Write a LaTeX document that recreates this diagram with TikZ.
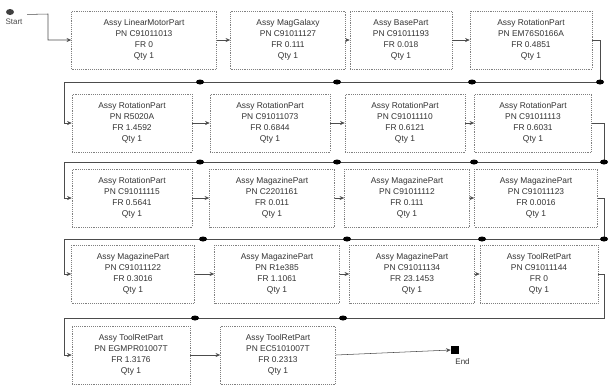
\documentclass[tikz,border=0pt]{standalone}
\usepackage{fontspec}
\setmainfont{Liberation Sans}
\usetikzlibrary{arrows.meta}
\begin{document}
\begin{tikzpicture}[x=0.75pt, y=-0.75pt,
    part/.style={draw=black!50, densely dotted, minimum height=43.5pt, inner sep=0pt,
      align=center, text=black!80, font=\fontsize{6.3}{8.4}\selectfont},
    link/.style={black!70, -{Stealth[length=3.5pt, width=3pt]}},
    blob/.style={fill=black}]
    \useasboundingbox (0,0) rectangle (611,390);
    % start
    \fill[black!75] (10,12) ellipse (4 and 3);
    \node[font=\fontsize{6}{7}\selectfont, text=black!70] (start) at (14,22) {Start};
    % row 1
    \node[part, minimum width=108.75pt] (b11) at (144,40) {Assy LinearMotorPart\\PN C91011013\\FR 0\\Qty 1};
    \node[part, minimum width=86.25pt] (b12) at (288,40) {Assy MagGalaxy\\PN C91011127\\FR 0.111\\Qty 1};
    \node[part, minimum width=76.5pt] (b13) at (401,40) {Assy BasePart\\PN C91011193\\FR 0.018\\Qty 1};
    \node[part, minimum width=91.5pt] (b14) at (531,40) {Assy RotationPart\\PN EM76S0166A\\FR 0.4851\\Qty 1};
    % row 2
    \node[part, minimum width=90pt] (b21) at (132,123) {Assy RotationPart\\PN R5020A\\FR 1.4592\\Qty 1};
    \node[part, minimum width=90pt] (b22) at (270,123) {Assy RotationPart\\PN C91011073\\FR 0.6844\\Qty 1};
    \node[part, minimum width=90pt] (b23) at (405,123) {Assy RotationPart\\PN C91011110\\FR 0.6121\\Qty 1};
    \node[part, minimum width=87.75pt] (b24) at (533,123) {Assy RotationPart\\PN C91011113\\FR 0.6031\\Qty 1};
    % row 3
    \node[part, minimum width=90pt] (b31) at (132,198) {Assy RotationPart\\PN C91011115\\FR 0.5641\\Qty 1};
    \node[part, minimum width=93.75pt] (b32) at (272,198) {Assy MagazinePart\\PN C2201161\\FR 0.011\\Qty 1};
    \node[part, minimum width=93.75pt] (b33) at (407,198) {Assy MagazinePart\\PN C91011112\\FR 0.111\\Qty 1};
    \node[part, minimum width=92.25pt] (b34) at (536,198) {Assy MagazinePart\\PN C91011123\\FR 0.0016\\Qty 1};
    % row 4
    \node[part, minimum width=92.25pt] (b41) at (133,274) {Assy MagazinePart\\PN C91011122\\FR 0.3016\\Qty 1};
    \node[part, minimum width=93.75pt] (b42) at (277,274) {Assy MagazinePart\\PN R1e385\\FR 1.1061\\Qty 1};
    \node[part, minimum width=93.75pt] (b43) at (412,274) {Assy MagazinePart\\PN C91011134\\FR 23.1453\\Qty 1};
    \node[part, minimum width=88.5pt] (b44) at (539,274) {Assy ToolRetPart\\PN C91011144\\FR 0\\Qty 1};
    % row 5
    \node[part, minimum width=88.5pt] (b51) at (131,355) {Assy ToolRetPart\\PN EGMPR01007T\\FR 1.3176\\Qty 1};
    \node[part, minimum width=86.25pt] (b52) at (278,355) {Assy ToolRetPart\\PN EC5101007T\\FR 0.2313\\Qty 1};
    % end
    \node[fill=black, minimum size=6pt, inner sep=0pt] (end) at (455,350) {};
    \node[font=\fontsize{6}{7}\selectfont, text=black!80, anchor=north west] (endtext) at (end.south west) {End};
    % links in rows
    \draw[link] (start.north east) -- (48,14) |- (b11.west);
    \foreach \r in {1,2,3,4} {
      \draw[link] (b\r1.east) -- (b\r2.west);
      \draw[link] (b\r2.east) -- (b\r3.west);
      \draw[link] (b\r3.east) -- (b\r4.west);
    }
    \draw[link] (b51.east) -- (b52.west);
    \draw[link] (b52.east) -- (end.west);
    % return lines
    \draw[link] (b14.east) -- (600,40) -- (600,82) -- (64,82) |- (b21.west);
    \draw[link] (b24.east) -- (604,123) -- (604,162) -- (64,162) |- (b31.west);
    \draw[link] (b34.east) -- (604,198) -- (604,239) -- (64,239) |- (b41.west);
    \draw[link] (b44.east) -- (604,274) -- (604,318) -- (64,318) |- (b51.west);
    % jump marks
    \foreach \x in {200,337,472,600} \fill[blob] (\x,82) ellipse (4 and 2.5);
    \foreach \x in {200,337,474,604} \fill[blob] (\x,162) ellipse (4 and 2.5);
    \foreach \x in {203,347,482,604} \fill[blob] (\x,239) ellipse (4 and 2.5);
    \foreach \x in {195,343} \fill[blob] (\x,318) ellipse (4 and 2.5);
\end{tikzpicture}
\end{document}
